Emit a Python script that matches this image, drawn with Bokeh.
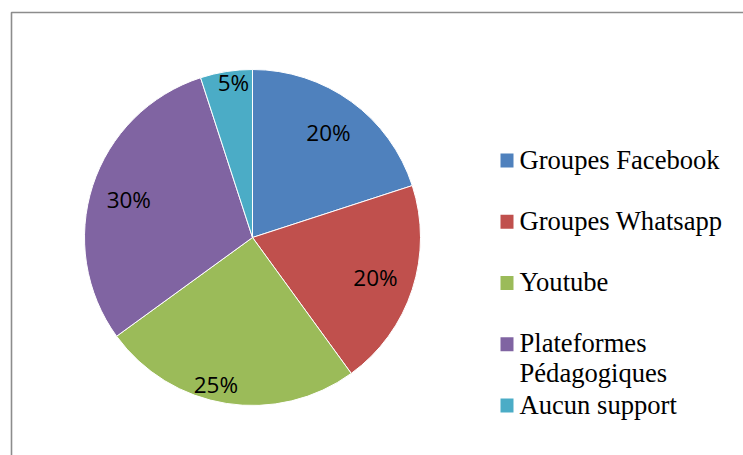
import math
from bokeh.plotting import figure
from bokeh.models import Range1d
from bokeh.core.properties import value
from bokeh.embed import file_html
from bokeh.resources import INLINE

# ---- data ----
categories = ["Groupes Facebook", "Groupes Whatsapp", "Youtube",
              "Plateformes\nPédagogiques", "Aucun support"]
shares = [20, 20, 25, 30, 5]
colors = ["#4F81BD", "#C0504D", "#9BBB59", "#8064A2", "#4BACC6"]

# ---- layout (pixels, figure coordinates with y up) ----
W, H = 743, 455
CX, CY, R = 252, 218, 168
label_r = [0.77, 0.77, 0.90, 0.77, 0.93]
label_shift = [0, 0, 5, -1, 2]  # degrees clockwise
LEG_X_SQ, LEG_X_TXT = 506.5, 519
LEG_TOP, LEG_STEP, LINE_H = 288, 61.25, 30
TXT_ADJ = 8

p = figure(width=W, height=H, output_backend="svg", toolbar_location=None,
           x_range=Range1d(0, W), y_range=Range1d(0, H), min_border=0)
p.axis.visible = False
p.grid.visible = False
p.outline_line_color = None
p.background_fill_color = "white"
p.border_fill_color = "white"

# chart-area frame (left and top edges visible)
p.line(x=[11, 11, 780], y=[-20, 443, 443], line_color="#8C8C8C", line_width=1.6)

total = float(sum(shares))
cum = 0.0
lx, ly, lt = [], [], []
for i, s in enumerate(shares):
    c0 = cum / total
    c1 = (cum + s) / total
    cum += s
    p.wedge(x=CX, y=CY, radius=R,
            start_angle=math.pi / 2 - 2 * math.pi * c0,
            end_angle=math.pi / 2 - 2 * math.pi * c1,
            direction="clock", fill_color=colors[i],
            line_color="white", line_width=1)
    mid = math.radians(360 * (c0 + c1) / 2 + label_shift[i])
    r = R * label_r[i]
    lx.append(CX + r * math.sin(mid))
    ly.append(CY + r * math.cos(mid))
    lt.append(f"{s}%")

p.text(x=lx, y=ly, text=lt, text_font=value("Open Sans"),
       text_font_size="22.5px", text_align="center", text_baseline="middle",
       text_color="black")

# legend
for i, name in enumerate(categories):
    base = LEG_TOP - LEG_STEP * i
    p.rect(x=LEG_X_SQ, y=base + 7, width=13, height=14,
           fill_color=colors[i], line_color=None)
    for j, line in enumerate(name.split("\n")):
        p.text(x=[LEG_X_TXT], y=[base - j * LINE_H + TXT_ADJ], text=[line],
               text_font=value("Liberation Serif"), text_font_size="26.6px",
               text_align="left", text_baseline="alphabetic",
               text_color="black")

open("out.html", "w").write(file_html(p, INLINE))
